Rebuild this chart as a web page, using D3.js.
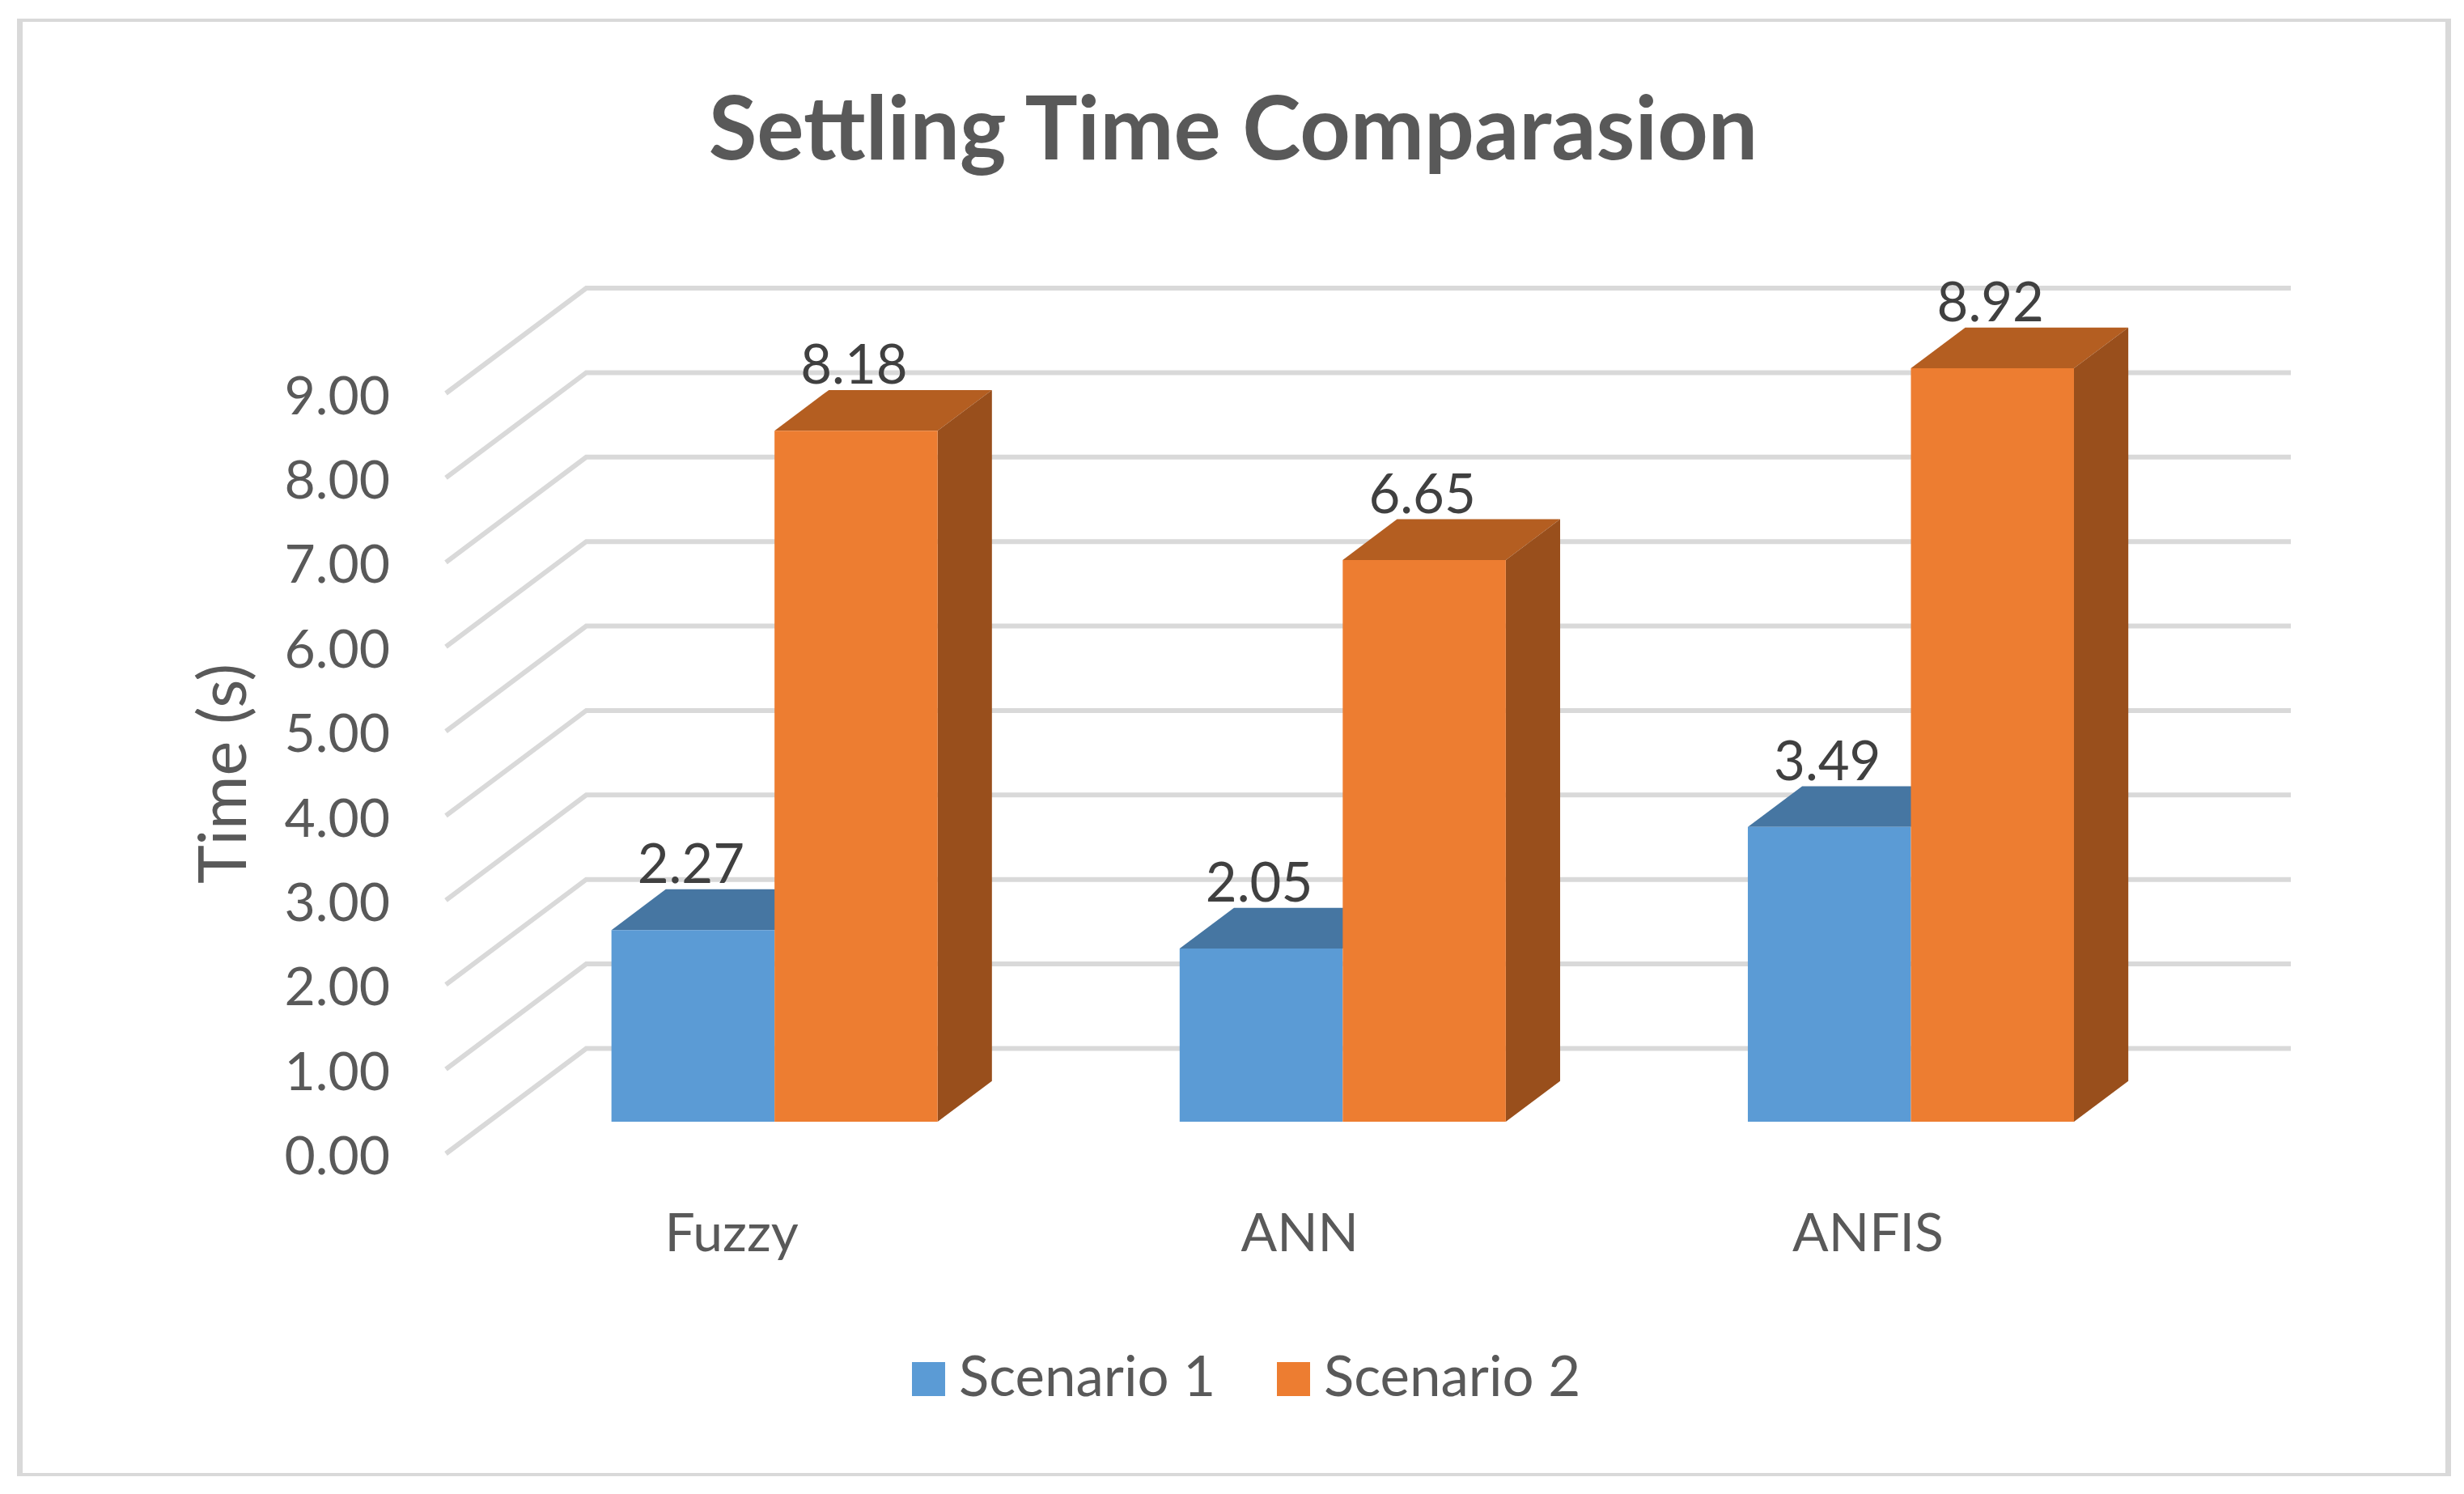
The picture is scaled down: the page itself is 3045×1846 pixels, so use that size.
<!DOCTYPE html>
<html>
<head>
<meta charset="utf-8">
<script src="https://d3js.org/d3.v7.min.js"></script>
<style>
  html, body { margin: 0; padding: 0; background: #fff; }
  svg { display: block; }
  text { font-family: Lato, "Open Sans", sans-serif; }
</style>
</head>
<body>
<div class="chart"></div>
<script>
const categories = ['Fuzzy', 'ANN', 'ANFIS'];
const seriesNames = ['Scenario 1', 'Scenario 2'];
const scenario1 = [2.27, 2.05, 3.49];
const scenario2 = [8.18, 6.65, 8.92];
const yTicks = [0, 1, 2, 3, 4, 5, 6, 7, 8, 9];

const colors = {
  'Scenario 1': { front: '#5b9bd5', top: '#4676a2' },
  'Scenario 2': { front: '#ed7d31', top: '#b45e21', side: '#994f1c' }
};

const W = 3045, H = 1846;

// oblique projection of the 3d box: depth 0 is the front edge, 1 the back wall
const depthX = 173.5, depthY = 130;
const barNear = 0.303, barFar = 0.69;
const barNudge = 2.5;

const y = d3.scaleLinear().domain([0, 9]).range([1425.5, 486]);
const x = d3.scaleBand().domain(categories).range([551, 2657.5])
  .paddingInner(0.426).paddingOuter(0.213);
const inner = d3.scaleBand().domain(seriesNames).range([0, x.bandwidth()]);

function project(px, v, depth) {
  return [px + depth * depthX, y(v) - depth * depthY];
}

const svg = d3.select('.chart').append('svg')
  .attr('width', W).attr('height', H);

// chart frame, the sides are thicker than top and bottom in the source
svg.append('rect')
  .attr('x', 21).attr('y', 23)
  .attr('width', 3008).attr('height', 1801)
  .attr('fill', '#d9d9d9');
svg.append('rect')
  .attr('x', 28).attr('y', 27)
  .attr('width', 2994).attr('height', 1793)
  .attr('fill', '#fff');

svg.append('text')
  .attr('x', 1524).attr('y', 197)
  .attr('text-anchor', 'middle')
  .attr('font-size', 109).attr('font-weight', 700)
  .attr('fill', '#595959')
  .text('Settling Time Comparasion');

// gridlines: wall part and floor-side part
const line = d3.line();
svg.append('g').selectAll('path')
  .data(yTicks).enter().append('path')
  .attr('d', d => line([
    project(x.range()[0], d, 0),
    project(x.range()[0], d, 1),
    project(x.range()[1], d, 1)
  ]))
  .attr('fill', 'none').attr('stroke', '#d9d9d9').attr('stroke-width', 6);

// y axis
const yAxis = svg.append('g')
  .attr('transform', 'translate(505,4)')
  .call(d3.axisLeft(y).tickValues(yTicks).tickFormat(d3.format('.2f')).tickSize(0).tickPadding(23));
yAxis.select('.domain').remove();
yAxis.selectAll('text').attr('font-size', 66).attr('fill', '#595959').attr('font-family', 'Lato');

svg.append('text')
  .attr('transform', 'translate(304,956) rotate(-90)')
  .attr('text-anchor', 'middle')
  .attr('font-size', 81).attr('fill', '#595959')
  .text('Time (s)');

// x axis
const xAxis = svg.append('g')
  .attr('transform', 'translate(2,1499)')
  .call(d3.axisBottom(x).tickSize(0).tickPadding(0));
xAxis.select('.domain').remove();
xAxis.selectAll('text').attr('font-size', 66).attr('fill', '#595959').attr('font-family', 'Lato');

// bars, scenario 1 first so the orange box sits over it
const rows = [
  { name: seriesNames[0], values: scenario1 },
  { name: seriesNames[1], values: scenario2 }
];

rows.forEach(s => {
  const g = svg.append('g');
  const c = colors[s.name];
  const data = categories.map((cat, i) => {
    const x0 = x(cat) + inner(s.name) + barNudge;
    return { x0, x1: x0 + inner.bandwidth(), v: s.values[i] };
  });

  // top face
  g.selectAll('.top').data(data).enter().append('path')
    .attr('class', 'top')
    .attr('fill', c.top)
    .attr('d', d => line([
      project(d.x0, d.v, barNear), project(d.x0, d.v, barFar),
      project(d.x1, d.v, barFar), project(d.x1, d.v, barNear)
    ]) + 'Z');

  // right side, only the orange one shows
  if (c.side) {
    g.selectAll('.side').data(data).enter().append('path')
      .attr('class', 'side')
      .attr('fill', c.side)
      .attr('d', d => line([
        project(d.x1, d.v, barNear), project(d.x1, d.v, barFar),
        project(d.x1, 0, barFar), project(d.x1, 0, barNear)
      ]) + 'Z');
  }

  // front face
  g.selectAll('.front').data(data).enter().append('path')
    .attr('class', 'front')
    .attr('fill', c.front)
    .attr('d', d => line([
      project(d.x0, d.v, barNear), project(d.x1, d.v, barNear),
      project(d.x1, 0, barNear), project(d.x0, 0, barNear)
    ]) + 'Z');
});

// data labels on top
rows.forEach(s => {
  svg.append('g').selectAll('text')
    .data(categories.map((cat, i) => ({ cat, v: s.values[i] })))
    .enter().append('text')
    .attr('x', d => project(x(d.cat) + inner(s.name) + inner.bandwidth() / 2, d.v, barNear)[0])
    .attr('y', d => project(0, d.v, barNear)[1] - 58)
    .attr('text-anchor', 'middle')
    .attr('font-size', 67).attr('fill', '#404040')
    .text(d => d3.format('.2f')(d.v));
});

// legend
const legendX = d3.scaleOrdinal().domain(seriesNames).range([1127, 1578]);
const legend = svg.append('g').selectAll('g')
  .data(seriesNames).enter().append('g')
  .attr('transform', d => `translate(${legendX(d)},1683)`);
legend.append('rect')
  .attr('width', 41).attr('height', 42)
  .attr('fill', d => colors[d].front);
legend.append('text')
  .attr('x', 58).attr('y', 42)
  .attr('font-size', 69).attr('fill', '#595959')
  .text(d => d);
</script>
</body>
</html>
